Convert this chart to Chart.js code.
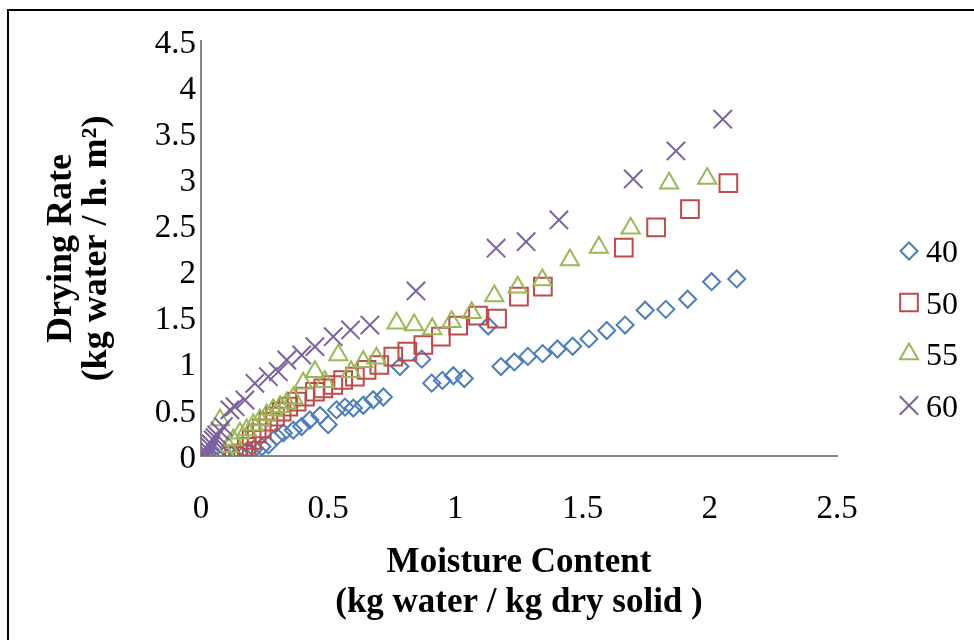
<!DOCTYPE html>
<html>
<head>
<meta charset="utf-8">
<title>Velocidad de secado</title>
<script src="https://cdn.jsdelivr.net/npm/chart.js@4.4.1/dist/chart.umd.min.js"></script>
<style>
  html, body { margin: 0; padding: 0; background: #fff; overflow: hidden; }
  #grafica { display: block; }
</style>
</head>
<body>
<canvas id="grafica" width="974" height="640"></canvas>
<script>
// Humedad (kg agua / kg sólido seco) y velocidad de secado (kg agua / h. m2) por temperatura
const humedad40 = [0.03, 0.06, 0.09, 0.12, 0.15, 0.18, 0.21, 0.24, 0.265, 0.298, 0.324, 0.363, 0.396, 0.428, 0.468, 0.500, 0.533, 0.566, 0.599, 0.638, 0.677, 0.717, 0.782, 0.868, 0.907, 0.949, 0.992, 1.035, 1.129, 1.179, 1.232, 1.285, 1.343, 1.401, 1.461, 1.525, 1.595, 1.667, 1.746, 1.827, 1.913, 2.007, 2.106];
const tasa40 = [0.0, 0.0, 0.0, 0.01, 0.03, 0.05, 0.08, 0.10, 0.12, 0.21, 0.25, 0.28, 0.32, 0.39, 0.44, 0.34, 0.50, 0.53, 0.52, 0.55, 0.61, 0.64, 0.97, 1.05, 0.79, 0.82, 0.87, 0.84, 1.41, 0.97, 1.02, 1.08, 1.11, 1.16, 1.19, 1.27, 1.36, 1.42, 1.58, 1.59, 1.70, 1.89, 1.92];

const humedad50 = [0.13, 0.145, 0.166, 0.18, 0.199, 0.219, 0.239, 0.265, 0.291, 0.317, 0.343, 0.376, 0.409, 0.448, 0.481, 0.52, 0.559, 0.605, 0.651, 0.701, 0.756, 0.811, 0.874, 0.943, 1.011, 1.089, 1.164, 1.25, 1.344, 1.662, 1.789, 1.922, 2.073];
const tasa50 = [0.0, 0.02, 0.03, 0.10, 0.174, 0.246, 0.30, 0.372, 0.426, 0.48, 0.535, 0.589, 0.643, 0.697, 0.734, 0.77, 0.824, 0.86, 0.933, 0.987, 1.077, 1.131, 1.204, 1.294, 1.413, 1.522, 1.489, 1.728, 1.836, 2.26, 2.48, 2.676, 2.958];

const humedad55 = [0.075, 0.094, 0.107, 0.127, 0.153, 0.18, 0.206, 0.232, 0.258, 0.284, 0.311, 0.337, 0.363, 0.402, 0.448, 0.487, 0.54, 0.59, 0.638, 0.69, 0.769, 0.838, 0.909, 0.985, 1.064, 1.153, 1.245, 1.342, 1.45, 1.564, 1.689, 1.84, 1.99];
const tasa55 = [0.39, 0.04, 0.10, 0.174, 0.246, 0.282, 0.336, 0.39, 0.445, 0.50, 0.535, 0.571, 0.626, 0.788, 0.914, 0.806, 1.095, 0.914, 1.023, 1.06, 1.44, 1.42, 1.377, 1.457, 1.554, 1.735, 1.83, 1.909, 2.126, 2.26, 2.47, 2.958, 3.01];

const humedad60 = [0.01, 0.02, 0.025, 0.03, 0.035, 0.04, 0.048, 0.055, 0.062, 0.075, 0.088, 0.114, 0.134, 0.173, 0.212, 0.265, 0.304, 0.337, 0.396, 0.448, 0.52, 0.588, 0.664, 0.845, 1.16, 1.278, 1.407, 1.699, 1.867, 2.051];
const tasa60 = [0.0, 0.01, 0.03, 0.06, 0.10, 0.13, 0.174, 0.20, 0.228, 0.27, 0.318, 0.50, 0.535, 0.607, 0.788, 0.86, 0.914, 1.041, 1.095, 1.186, 1.294, 1.367, 1.42, 1.79, 2.253, 2.324, 2.56, 3.004, 3.308, 3.652];

const temperaturas = ['40', '50', '55', '60'];
const colores = ['#4A7EBB', '#BE4B48', '#98B954', '#7D60A0'];
const marcadores = ['rectRot', 'rect', 'triangle', 'crossRot'];
const radios = [8.5, 12.5, 10.5, 13];

const limitesX = [0, 2.5, 0.5];
const limitesY = [0, 4.5, 0.5];

const fuente = '"Liberation Serif", "Times New Roman", serif';

function puntos(xs, ys) {
    return xs.map((x, i) => ({ x: x, y: ys[i] }));
}

// 0, 0.5, 1, 1.5 ... sin ceros de relleno
function formatoTick(valor) {
    return String(Math.round(valor * 10) / 10);
}

// Marco negro alrededor de la figura
const marcoPlugin = {
    id: 'marco',
    beforeDraw(chart) {
        const ctx = chart.ctx;
        ctx.save();
        ctx.fillStyle = '#fff';
        ctx.fillRect(0, 0, chart.width, chart.height);
        ctx.strokeStyle = '#000';
        ctx.lineWidth = 2;
        ctx.strokeRect(8, 10, chart.width + 20, chart.height + 20);
        ctx.restore();
    }
};

// Leyenda a la derecha, con los mismos marcadores de cada serie
const leyendaPlugin = {
    id: 'leyenda',
    afterDraw(chart, args, opts) {
        const ctx = chart.ctx;
        ctx.save();
        chart.data.datasets.forEach((ds, i) => {
            const y = opts.top + i * opts.step;
            ctx.strokeStyle = ds.borderColor;
            ctx.fillStyle = 'rgba(0,0,0,0)';
            ctx.lineWidth = ds.pointBorderWidth;
            Chart.helpers.drawPoint(ctx, {
                pointStyle: ds.pointStyle,
                radius: ds.pointRadius,
                rotation: 0,
                borderWidth: ds.pointBorderWidth
            }, opts.x, y);
            ctx.fillStyle = '#000';
            ctx.font = '32px ' + fuente;
            ctx.textBaseline = 'middle';
            ctx.textAlign = 'left';
            ctx.fillText(ds.label, opts.x + opts.gap, y + 3);
        });
        ctx.restore();
    }
};

const series = [
    [humedad40, tasa40],
    [humedad50, tasa50],
    [humedad55, tasa55],
    [humedad60, tasa60]
];

const canvas = document.getElementById('grafica');

new Chart(canvas, {
    type: 'scatter',
    data: {
        datasets: series.map((s, i) => ({
            label: temperaturas[i],
            data: puntos(s[0], s[1]),
            borderColor: colores[i],
            backgroundColor: 'rgba(0,0,0,0)',
            pointStyle: marcadores[i],
            pointRadius: radios[i],
            pointHoverRadius: radios[i],
            pointBorderWidth: 2,
            pointBackgroundColor: 'rgba(0,0,0,0)',
            pointBorderColor: colores[i],
            showLine: false,
            order: 4 - i
        }))
    },
    options: {
        responsive: false,
        animation: false,
        layout: { padding: { left: 20, right: 137, top: 41, bottom: 0 } },
        plugins: {
            legend: { display: false },
            tooltip: { enabled: false },
            leyenda: { x: 909, gap: 17, top: 251, step: 51.5 }
        },
        scales: {
            x: {
                type: 'linear',
                min: limitesX[0],
                max: limitesX[1],
                ticks: {
                    stepSize: limitesX[2],
                    color: '#000',
                    padding: 0,
                    callback: formatoTick,
                    font: { family: fuente, size: 33 }
                },
                grid: { display: false, drawTicks: true, tickLength: 34 },
                border: { display: true, color: '#868686', width: 2 },
                title: {
                    display: true,
                    text: ['Moisture Content', '(kg water / kg dry solid )'],
                    color: '#000',
                    font: { family: fuente, size: 35, weight: 'bold', lineHeight: 40 / 35 },
                    padding: { top: 13.4, bottom: 17 }
                }
            },
            y: {
                type: 'linear',
                min: limitesY[0],
                max: limitesY[1],
                ticks: {
                    stepSize: limitesY[2],
                    color: '#000',
                    padding: 0,
                    labelOffset: 3,
                    callback: formatoTick,
                    font: { family: fuente, size: 33 }
                },
                grid: { display: false, drawTicks: true, tickLength: 5 },
                border: { display: true, color: '#868686', width: 2 },
                title: {
                    display: true,
                    text: ['Drying Rate', '(kg water / h. m\u00b2)'],
                    color: '#000',
                    font: { family: fuente, size: 36, weight: 'bold', lineHeight: 35 / 36 },
                    padding: { top: 24.5, bottom: 40.2 }
                }
            }
        }
    },
    plugins: [marcoPlugin, leyendaPlugin]
});
</script>
</body>
</html>
